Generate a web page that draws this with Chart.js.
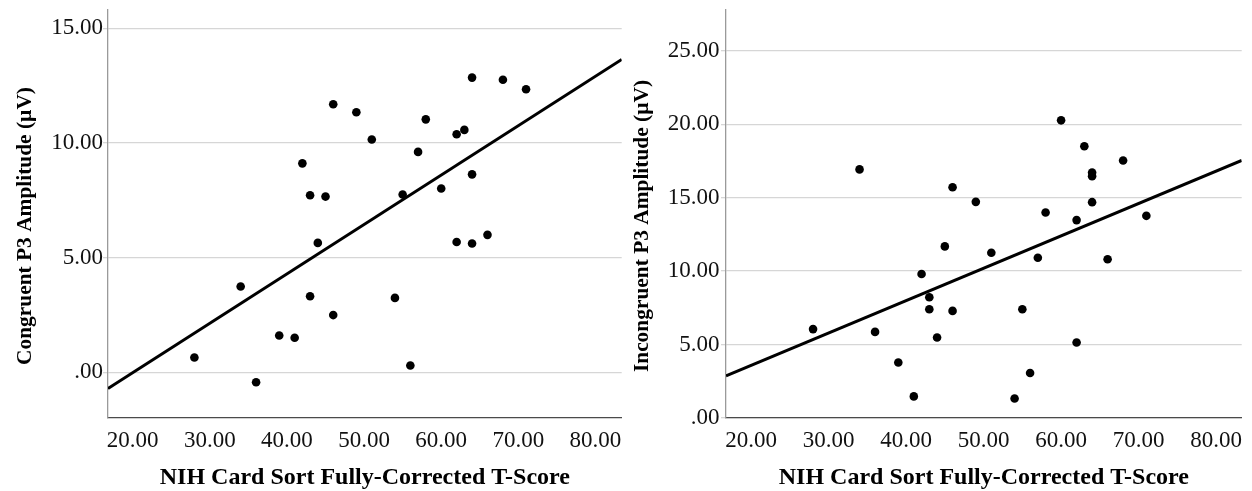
<!DOCTYPE html>
<html>
<head>
<meta charset="utf-8">
<script src="https://cdn.jsdelivr.net/npm/chart.js@4/dist/chart.umd.min.js"></script>
<style>
  html, body { margin: 0; padding: 0; background: #ffffff; }
  body { width: 1252px; height: 491px; position: relative; overflow: hidden; }
  .panel { position: absolute; top: 0; width: 626px; height: 491px; }
  #leftPanel { left: 0; }
  #rightPanel { left: 626px; }
</style>
</head>
<body>
<div class="panel" id="leftPanel"><canvas id="leftChart"></canvas></div>
<div class="panel" id="rightPanel"><canvas id="rightChart"></canvas></div>
<script>
// ---------- data ----------
const xAxisTitle = "NIH Card Sort Fully-Corrected T-Score";
const xTickValues = [20, 30, 40, 50, 60, 70, 80];

const congruentTitle = "Congruent P3 Amplitude (µV)";
const congruentYTicks = [0, 5, 10, 15];
const congruentX = [28, 34, 36, 39, 41, 42, 43, 43, 44, 45, 46, 46, 49, 51, 54, 55, 56, 57, 58, 60, 62, 62, 63, 64, 64, 64, 66, 68, 71];
const congruentY = [0.64, 3.74, -0.44, 1.60, 1.50, 9.11, 7.72, 3.31, 5.64, 7.66, 11.69, 2.49, 11.34, 10.15, 3.24, 7.75, 0.29, 9.61, 11.03, 8.01, 10.38, 5.68, 10.57, 12.85, 8.63, 5.61, 5.99, 12.76, 12.34];
const congruentFitX = [16.8, 83.4];
const congruentFitY = [-0.71, 13.64];

const incongruentTitle = "Incongruent P3 Amplitude (µV)";
const incongruentYTicks = [0, 5, 10, 15, 20, 25];
const incongruentX = [28, 34, 36, 39, 41, 42, 43, 43, 44, 45, 46, 46, 49, 51, 54, 55, 56, 57, 58, 60, 62, 62, 63, 64, 64, 64, 66, 68, 71];
const incongruentY = [6.05, 16.92, 5.86, 3.78, 1.47, 9.80, 8.22, 7.40, 5.48, 11.68, 15.71, 7.29, 14.71, 11.25, 1.33, 7.40, 3.06, 10.91, 13.99, 20.26, 13.47, 5.14, 18.50, 16.71, 16.46, 14.69, 10.80, 17.53, 13.76];
const incongruentFitX = [16.77, 83.3];
const incongruentFitY = [2.87, 17.53];

// ---------- helpers ----------
const SERIF = "'Liberation Serif', 'Times New Roman', serif";
function fmt(v) { return v === 0 ? '.00' : v.toFixed(2); }
function pts(xs, ys) { return xs.map((x, i) => ({ x: x, y: ys[i] })); }

const titlePlugin = {
  id: 'axisTitles',
  afterDraw(chart, args, opts) {
    const ctx = chart.ctx, ca = chart.chartArea;
    ctx.save();
    ctx.fillStyle = '#000';
    ctx.textAlign = 'center';
    ctx.textBaseline = 'alphabetic';
    ctx.font = 'bold 24px ' + SERIF;
    ctx.fillText(opts.xTitle, (ca.left + ca.right) / 2, opts.xTitleY);
    ctx.font = 'bold 21.4px ' + SERIF;
    ctx.translate(opts.yTitleX, opts.yTitleCY);
    ctx.rotate(-Math.PI / 2);
    ctx.fillText(opts.yTitle, 0, 0);
    ctx.restore();
  }
};

function makeChart(id, cfg) {
  return new Chart(document.getElementById(id), {
    type: 'scatter',
    data: {
      datasets: [
        {
          data: pts(cfg.xs, cfg.ys),
          backgroundColor: '#000',
          borderColor: '#000',
          pointRadius: 4.3,
          pointBorderWidth: 0,
          pointHoverRadius: 4.3,
          order: 2
        },
        {
          type: 'line',
          data: pts(cfg.fitX, cfg.fitY),
          borderColor: '#000',
          borderWidth: 3,
          pointRadius: 0,
          fill: false,
          order: 1
        }
      ]
    },
    options: {
      responsive: false,
      animation: false,
      devicePixelRatio: 1,
      layout: { padding: { top: cfg.top, right: cfg.right, bottom: 0, left: 0 } },
      plugins: {
        legend: { display: false },
        tooltip: { enabled: false },
        axisTitles: { xTitle: xAxisTitle, xTitleY: 484, yTitle: cfg.yTitle, yTitleX: cfg.yTitleX, yTitleCY: 226 }
      },
      scales: {
        x: {
          type: 'linear',
          min: cfg.xMin, max: cfg.xMax,
          afterBuildTicks: s => { s.ticks = xTickValues.map(v => ({ value: v })); },
          afterFit: s => { s.height = 73; },
          grid: { display: false },
          border: { display: true, color: '#4a4a4a', width: 1.3 },
          ticks: { color: '#111', font: { family: SERIF, size: 23 }, padding: 1, maxRotation: 0, autoSkip: false, callback: v => fmt(v) }
        },
        y: {
          type: 'linear',
          min: cfg.yMin, max: cfg.yMax,
          afterBuildTicks: s => { s.ticks = cfg.yTicks.map(v => ({ value: v })); },
          afterFit: s => { s.width = cfg.yWidth; },
          grid: { color: '#d6d6d6', lineWidth: 1.3, tickLength: 5, drawTicks: true },
          border: { display: true, color: '#9a9a9a', width: 1.3 },
          ticks: { color: '#111', font: { family: SERIF, size: 23, lineHeight: 0.7 }, padding: cfg.yPad, autoSkip: false, callback: v => fmt(v) }
        }
      }
    },
    plugins: [titlePlugin]
  });
}

function setup() {
  for (const id of ['leftChart', 'rightChart']) {
    const c = document.getElementById(id);
    c.width = 626; c.height = 491;
    c.style.width = '626px'; c.style.height = '491px';
  }
  makeChart('leftChart', {
    xs: congruentX, ys: congruentY, fitX: congruentFitX, fitY: congruentFitY,
    xMin: 16.8, xMax: 83.4, yMin: -2, yMax: 15.8, yTicks: congruentYTicks,
    yTitle: congruentTitle, yTitleX: 31, yWidth: 108, yPad: 0, top: 10, right: 3
  });
  makeChart('rightChart', {
    xs: incongruentX, ys: incongruentY, fitX: incongruentFitX, fitY: incongruentFitY,
    xMin: 16.77, xMax: 83.3, yMin: 0, yMax: 27.8, yTicks: incongruentYTicks,
    yTitle: incongruentTitle, yTitleX: 22, yWidth: 100, yPad: 1.5, top: 9.5, right: 10.3
  });
}
setup();
</script>
</body>
</html>
